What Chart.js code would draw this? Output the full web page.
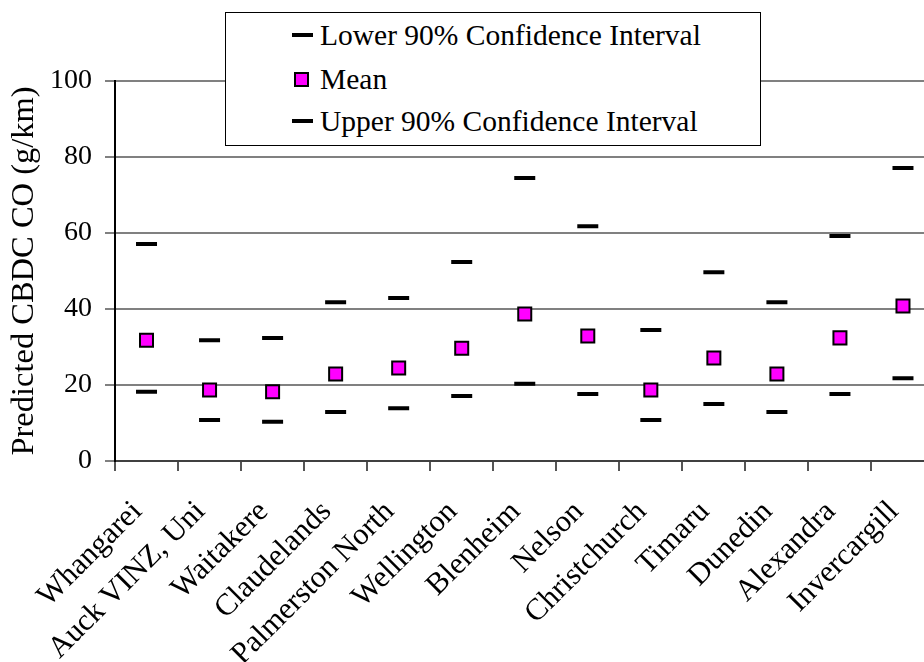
<!DOCTYPE html>
<html>
<head>
<meta charset="utf-8">
<script src="https://cdn.jsdelivr.net/npm/chart.js@4.4.1/dist/chart.umd.min.js"></script>
<style>
    body { margin: 0; overflow: hidden; background: #fff; }
    #wrap { position: relative; width: 949px; height: 662px; }
    #legend {
        position: absolute; left: 225px; top: 12px; width: 534px; height: 132px;
        border: 1px solid #000; background: #fff;
        font-family: "Liberation Serif", "DejaVu Serif", serif; font-size: 29.5px; color: #000;
    }
    .row { position: absolute; left: 66px; height: 30px; line-height: 30px; white-space: nowrap; }
    .dash { position: absolute; left: 0; top: 13px; width: 21px; height: 4px; background: #000; }
    .sq { position: absolute; left: 2px; top: 8px; width: 11px; height: 11px; background: #ff00ff; border: 2px solid #000; }
    .row span.txt { position: absolute; left: 28px; top: 0; }
</style>
</head>
<body>
<div id="wrap">
    <canvas id="chart" width="949" height="662"></canvas>
    <div id="legend"></div>
</div>
<script>
// sites along the x axis
const sites = ["Whangarei", "Auck VINZ, Uni", "Waitakere", "Claudelands", "Palmerston North",
    "Wellington", "Blenheim", "Nelson", "Christchurch", "Timaru", "Dunedin", "Alexandra", "Invercargill"];

// predicted CBDC CO (g/km)
const lowerCI = [18.2, 10.8, 10.3, 12.9, 13.9, 17.1, 20.3, 17.6, 10.8, 15.0, 12.9, 17.6, 21.8];
const meanCO  = [31.8, 18.7, 18.2, 22.9, 24.5, 29.7, 38.7, 32.9, 18.7, 27.1, 22.9, 32.4, 40.8];
const upperCI = [57.1, 31.8, 32.4, 41.8, 42.9, 52.4, 74.5, 61.8, 34.5, 49.7, 41.8, 59.2, 77.1];

const yTicks = [0, 20, 40, 60, 80, 100];

const serif = "'Liberation Serif', 'DejaVu Serif', serif";

const datasets = [
    { label: 'Lower 90% Confidence Interval', data: lowerCI, pointStyle: 'line', pointRadius: 10.5, borderWidth: 4, borderColor: '#000', backgroundColor: '#000' },
    { label: 'Mean', data: meanCO, pointStyle: 'rect', pointRadius: 9.2, borderWidth: 2, borderColor: '#000', backgroundColor: '#ff00ff' },
    { label: 'Upper 90% Confidence Interval', data: upperCI, pointStyle: 'line', pointRadius: 10.5, borderWidth: 4, borderColor: '#000', backgroundColor: '#000' }
];
datasets.forEach(ds => { ds.showLine = false; ds.pointHoverRadius = ds.pointRadius; });

new Chart(document.getElementById('chart'), {
    type: 'line',
    data: { labels: sites, datasets: datasets },
    options: {
        responsive: false,
        animation: false,
        layout: { padding: { top: 81, left: 0, right: 0, bottom: 0 } },
        plugins: { legend: { display: false }, tooltip: { enabled: false } },
        scales: {
            x: {
                offset: true,
                grid: { offset: true, drawOnChartArea: false, tickLength: 10, color: '#555', lineWidth: 2 },
                border: { color: '#404040', width: 2 },
                ticks: {
                    color: '#000', font: { family: serif, size: 30.5 },
                    minRotation: 45, maxRotation: 45, padding: 23, labelOffset: -9, autoSkip: false
                },
                afterFit: scale => {
                    scale.height = 201;
                    scale.paddingLeft = 0;
                    scale.paddingRight = 0;
                }
            },
            y: {
                min: 0, max: 100,
                afterBuildTicks: scale => { scale.ticks = yTicks.map(v => ({ value: v })); },
                grid: { color: '#808080', lineWidth: 2, tickLength: 10 },
                border: { color: '#000', width: 2 },
                ticks: { color: '#000', font: { family: serif, size: 28 }, padding: 13 },
                title: {
                    display: true, text: 'Predicted CBDC CO (g/km)', color: '#000',
                    font: { family: serif, size: 32.5, weight: 'normal' }, padding: { top: 5, bottom: 0 }
                },
                afterFit: scale => { scale.width = 115; }
            }
        }
    }
});

// legend box drawn over the top of the plot
const legendDiv = document.getElementById('legend');
const rowTops = [7, 51, 93];
datasets.forEach((ds, i) => {
    const row = document.createElement('div');
    row.className = 'row';
    row.style.top = rowTops[i] + 'px';
    const sym = document.createElement('div');
    sym.className = ds.pointStyle === 'rect' ? 'sq' : 'dash';
    row.appendChild(sym);
    const txt = document.createElement('span');
    txt.className = 'txt';
    txt.textContent = ds.label;
    row.appendChild(txt);
    legendDiv.appendChild(row);
});
</script>
</body>
</html>
